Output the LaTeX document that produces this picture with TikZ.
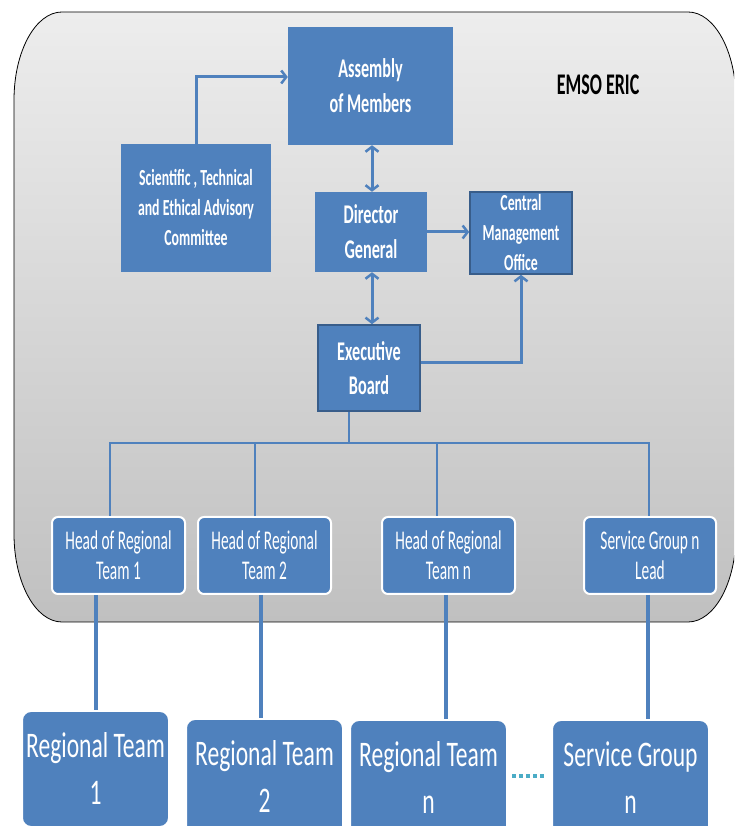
\documentclass[tikz,border=0pt]{standalone}
\usepackage{fontspec}
\setmainfont{Carlito}[FakeStretch=0.6]
\newfontfamily\headfont{Carlito}[FakeStretch=0.57]
\newfontfamily\teamfont{Carlito}[FakeStretch=0.655]
\usetikzlibrary{arrows.meta,calc}
\definecolor{boxblue}{HTML}{4F81BD}
\definecolor{boxedge}{HTML}{385D8A}
\definecolor{dotcyan}{HTML}{4BACC6}
\definecolor{bgtop}{RGB}{237,237,237}
\definecolor{bgbot}{RGB}{192,192,192}
\begin{document}
\begin{tikzpicture}[x=1pt,y=1pt,
  blk/.style={fill=boxblue, text=white, inner sep=0pt, align=center, font=\bfseries},
  edged/.style={blk, draw=boxedge, line width=1.6pt},
  headbox/.style={fill=boxblue, text=white, inner sep=0pt, align=center, draw=white, line width=2pt,
     rounded corners=6pt, minimum width=133pt, minimum height=77pt, font=\headfont\fontsize{27}{30}\selectfont},
  teambox/.style={fill=boxblue, text=white, inner sep=0pt, align=center, draw=white, line width=2pt,
     rounded corners=9pt, anchor=north, minimum width=157pt, minimum height=116pt, font=\teamfont\fontsize{36}{47}\selectfont},
  barb/.tip={Straight Barb[length=5pt,width=13pt,line width=2.5pt]},
  arr/.style={draw=boxblue, line width=3pt, -barb},
  darr/.style={draw=boxblue, line width=3pt, barb-barb},
  tree/.style={draw=boxblue, line width=2pt},
  link/.style={draw=boxblue, line width=4pt},
  dots/.style={draw=dotcyan, line width=4pt, dash pattern=on 4pt off 3pt}
]
\useasboundingbox (0,0) rectangle (734,826);
\clip (0,0) rectangle (734,826);
% background panel
\path[draw=black, line width=0.8pt, top color=bgtop, bottom color=bgbot]
  (14,726) arc[start angle=180,end angle=90,x radius=48,y radius=88]
  -- (688,814) arc[start angle=90,end angle=0,x radius=48,y radius=88]
  -- (736,292) arc[start angle=0,end angle=-90,x radius=48,y radius=88]
  -- (62,204) arc[start angle=270,end angle=180,x radius=48,y radius=88]
  -- cycle;
\node[font=\bfseries\fontsize{30}{36}\selectfont] (emso) at (598,741) {EMSO ERIC};
% upper boxes
\node[blk, minimum width=165pt, minimum height=118pt, font=\bfseries\fontsize{27}{35}\selectfont]
  (asm) at (370.5,740) {Assembly\\of Members};
\node[blk, minimum width=150pt, minimum height=128pt, font=\bfseries\fontsize{23}{30}\selectfont]
  (sci) at (196,618) {Scientific , Technical\\and Ethical Advisory\\Committee};
\node[blk, minimum width=112pt, minimum height=80pt, font=\bfseries\fontsize{27}{35}\selectfont]
  (dir) at (371,594) {Director\\General};
\node[edged, minimum width=102pt, minimum height=82pt, font=\bfseries\fontsize{23}{30}\selectfont]
  (cmo) at (521,593) {Central\\Management\\Office};
\node[edged, minimum width=102pt, minimum height=86pt, font=\bfseries\fontsize{27}{34}\selectfont]
  (exec) at (369,458) {Executive\\Board};
% heads
\node[headbox] (h1) at (118.5,270.5) {Head of Regional\\Team 1};
\node[headbox] (h2) at (264.5,270.5) {Head of Regional\\Team 2};
\node[headbox] (hn) at (448.5,270.5) {Head of Regional\\Team n};
\node[headbox, minimum width=132pt] (hs) at (650,270.5) {Service Group n\\Lead};
% teams
\node[teambox, minimum width=147pt] (rt1) at (95.5,116) {Regional Team\\1};
\node[teambox] (rt2) at (264.5,108) {Regional Team\\2};
\node[teambox] (rtn) at (428.5,107) {Regional Team\\n};
\node[teambox] (sgn) at (630.5,107) {Service Group\\n};
% arrows
\draw[arr] (sci.north) |- ([yshift=9pt]asm.west);
\draw[darr] ([xshift=1.5pt]asm.south) -- ([xshift=1.5pt]asm.south |- dir.north);
\draw[arr] (dir.east) -- (dir.east -| cmo.west);
\draw[darr] ([xshift=1pt]dir.south) -- ([xshift=1pt]dir.south |- exec.north);
\draw[arr] ([yshift=5pt]exec.east) -| (cmo.south);
% tree
\coordinate (bus) at (349,383);
\draw[tree] ([xshift=-20pt]exec.south) -- (bus);
\draw[tree] ([xshift=-8.5pt]h1.north) -- ([xshift=-8.5pt]h1.north |- bus) -- ([xshift=-1pt]hs.north |- bus) -- ([xshift=-1pt]hs.north);
\draw[tree] ([xshift=-9.5pt]h2.north) -- ([xshift=-9.5pt]h2.north |- bus);
\draw[tree] ([xshift=-11.5pt]hn.north) -- ([xshift=-11.5pt]hn.north |- bus);
% links
\draw[link] (rt1.north) -- (rt1.north |- h1.south);
\draw[link] ([xshift=-3.5pt]h2.south) -- ([xshift=-3.5pt]h2.south |- rt2.north);
\draw[link] ([xshift=-2.5pt]hn.south) -- ([xshift=-2.5pt]hn.south |- rtn.north);
\draw[link] ([xshift=-2pt]hs.south) -- ([xshift=-2pt]hs.south |- sgn.north);
\draw[dots] ([xshift=4pt,yshift=2pt]rtn.east) -- ([xshift=-5pt,yshift=2pt]sgn.west);
\end{tikzpicture}
\end{document}
